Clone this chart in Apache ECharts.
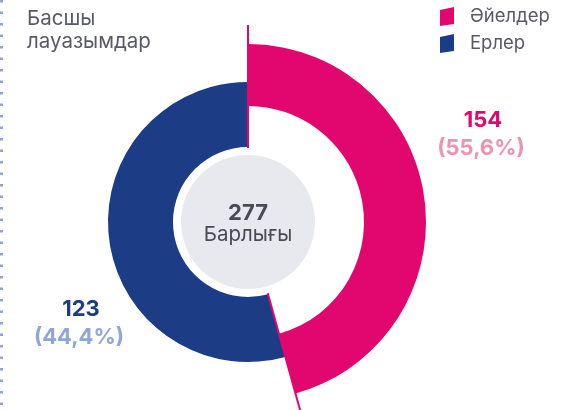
<!DOCTYPE html>
<html>
<head>
<meta charset="utf-8">
<script src="https://cdn.jsdelivr.net/npm/echarts@6/dist/echarts.min.js"></script>
<style>
  html, body { margin: 0; padding: 0; background: #fff; }
  #chart { width: 562px; height: 410px; }
</style>
</head>
<body>
<div id="chart"></div>
<script>
// data
const categories = ['Әйелдер', 'Ерлер']
const values = [154, 123]
const percentLabels = ['(55,6%)', '(44,4%)']
// share of the circle each arc takes in the picture
const arcShares = [45.7, 54.3]
const total = 277
const totalLabel = 'Барлығы'
const titleText = 'Басшы\nлауазымдар'

const colors = ['#E2076E', '#1C3D86']
const lightColors = ['#EE93AF', '#8FA7D6']
const FONT = 'Inter, "Noto Sans", sans-serif'

const chart = echarts.init(document.getElementById('chart'))

const cx = 248, cy = 222
const ringRadii = [[116, 178], [75, 140]]

// one pie per category, other arc hidden so each ring gets its own radius
const ringSeries = categories.map((name, i) => ({
  type: 'pie',
  silent: true,
  center: [cx, cy],
  radius: ringRadii[i],
  startAngle: 90,
  clockwise: true,
  label: { show: false },
  labelLine: { show: false },
  emphasis: { disabled: true },
  data: categories.map((n, j) => ({
    name: j === i ? n : '',
    value: arcShares[j],
    itemStyle: { color: j === i ? colors[i] : 'transparent' }
  }))
}))

// thin separator lines at the arc boundaries
const boundaries = [0, arcShares[0]]
const lineSeries = boundaries.map(a => ({
  type: 'line',
  coordinateSystem: 'polar',
  silent: true,
  symbol: 'none',
  lineStyle: { color: colors[0], width: 2 },
  data: [[74, a], [197, a]]
}))

chart.setOption({
  animation: false,
  title: {
    text: titleText,
    left: 22,
    top: 2,
    textStyle: { fontFamily: FONT, fontSize: 20.5, fontWeight: 'normal', color: '#5A5A64', lineHeight: 23 }
  },
  legend: {
    orient: 'vertical',
    left: 435,
    top: 2,
    itemWidth: 14,
    itemHeight: 19,
    itemGap: 8,
    selectedMode: false,
    textStyle: { fontFamily: FONT, fontSize: 18.5, color: '#5A5A64', padding: [0, 0, 0, 11] },
    data: categories.map((n, i) => ({
      name: n,
      icon: 'path://M0,3 L14,0 L14,17 L0,19 Z',
      itemStyle: { color: colors[i] }
    }))
  },
  polar: { center: [cx, cy], radius: 197 },
  angleAxis: { type: 'value', min: 0, max: 100, startAngle: 90, clockwise: true, show: false },
  radiusAxis: { type: 'value', min: 0, max: 197, show: false },
  series: [
    ...ringSeries,
    {
      type: 'pie',
      silent: true,
      center: [cx, cy],
      radius: [0, 67],
      emphasis: { disabled: true },
      labelLine: { show: false },
      label: {
        show: true,
        position: 'center',
        formatter: '{a|' + total + '}\n{b|' + totalLabel + '}',
        rich: {
          a: { fontFamily: FONT, fontSize: 22, fontWeight: 'bold', color: '#4A4A54', lineHeight: 26, padding: [6, 0, 0, 0] },
          b: { fontFamily: FONT, fontSize: 20.5, color: '#4A4A54', lineHeight: 24 }
        }
      },
      data: [{ value: total, name: 'total', itemStyle: { color: '#E8E9EE' } }]
    },
    ...lineSeries
  ],
  graphic: [
    {
      type: 'line',
      silent: true,
      shape: { x1: 1.5, y1: 0, x2: 1.5, y2: 410 },
      style: { stroke: '#8FA6D6', lineWidth: 3, lineDash: [2.5, 9] }
    },
    ...[[483, 120], [81, 309]].flatMap((p, i) => [
      {
        type: 'text', silent: true, x: p[0], y: p[1],
        style: {
          text: String(values[i]), fill: colors[i],
          font: 'bold 22px ' + FONT, textAlign: 'center', textVerticalAlign: 'middle'
        }
      },
      {
        type: 'text', silent: true, x: p[0] - 2, y: p[1] + 28,
        style: {
          text: percentLabels[i], fill: lightColors[i],
          font: 'bold 22px ' + FONT, textAlign: 'center', textVerticalAlign: 'middle'
        }
      }
    ])
  ]
})
</script>
</body>
</html>
